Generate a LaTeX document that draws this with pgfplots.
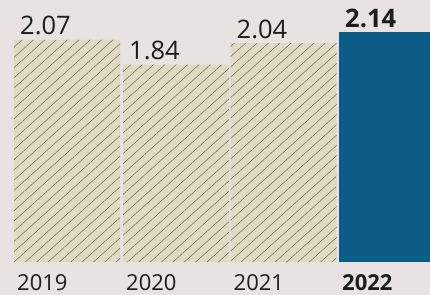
\documentclass[border=0pt]{standalone}
\usepackage{pgfplots}
\pgfplotsset{compat=1.18}
\usetikzlibrary{patterns.meta}
\usepackage{fontspec}
\setmainfont{Open Sans}
\definecolor{bgc}{HTML}{E8E2E2}
\definecolor{beige}{HTML}{E0DAC3}
\definecolor{hatch}{HTML}{6A665A}
\definecolor{teal}{HTML}{0B5D88}
\definecolor{txt}{HTML}{1C1C1C}
\begin{document}
\begin{tikzpicture}
\path[use as bounding box] (0,-33bp) rectangle (430bp,262bp);
\fill[bgc] (0,-33bp) rectangle (430bp,262bp);
\begin{axis}[
  at={(0,0)}, anchor=south west,
  scale only axis, width=430bp, height=262bp,
  xmin=0, xmax=430, ymin=0, ymax=2.442,
  ybar, bar width=106, bar shift=0pt,
  axis line style={draw=none}, tick style={draw=none},
  ytick=\empty,
  xtick={67,176,283.5,392},
  xticklabels={2019,2020,2021,{\bfseries 2022}},
  xticklabel style={anchor=base west, inner sep=0pt, xshift=-50bp, yshift=-24bp,
    font=\fontsize{22bp}{22bp}\selectfont, text=txt},
  point meta=explicit symbolic,
  nodes near coords,
  every node near coord/.append style={anchor=base west, inner sep=0pt,
    xshift=-47bp, yshift=5bp, font=\fontsize{25.5bp}{26bp}\selectfont, text=txt},
]
\addplot[draw=none, fill=beige,
  postaction={pattern={Lines[angle=42,distance=7.6bp,line width=0.5bp]}, pattern color=hatch}]
  coordinates {(67,2.07) [2.07] (176,1.84) [1.84] (283.5,2.04) [2.04]};
\addplot[draw=none, fill=teal,
  every node near coord/.append style={font=\fontsize{25.5bp}{26bp}\selectfont\bfseries}]
  coordinates {(392,2.14) [2.14]};
\end{axis}
\end{tikzpicture}
\end{document}
